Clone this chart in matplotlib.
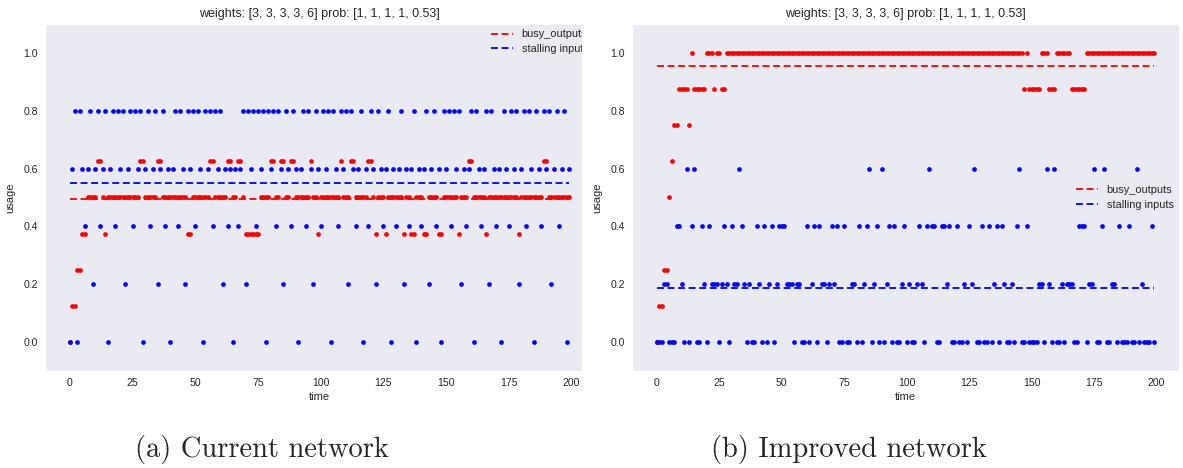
import matplotlib
matplotlib.use("Agg")
import matplotlib.pyplot as plt
import numpy as np
import seaborn as sns
from matplotlib.patches import Rectangle

# values, one sample per time step (t = 0..199)
busy_current = [
    0, .125, .125, .25, .25, .375, .375, .5, .5, .5, .5, .625, .625, .5, .375, .5, .5, .5, .5, .5,
    .5, .5, .5, .5, .5, .5, .5, .5, .625, .625, .5, .5, .5, .5, .5, .625, .625, .5, .5, .5,
    .5, .5, .5, .5, .5, .5, .5, .375, .375, .5, .5, .5, .5, .5, .5, .5, .625, .625, .5, .5,
    .5, .5, .5, .625, .625, .5, .5, .625, .625, .5, .375, .375, .375, .375, .375, .375, .5, .5, .5, .5,
    .625, .625, .5, .5, .625, .625, .5, .5, .625, .625, .5, .5, .5, .5, .5, .5, .625, .5, .5, .375,
    .5, .5, .5, .5, .5, .5, .5, .5, .625, .5, .5, .5, .625, .625, .5, .5, .5, .5, .5, .625,
    .625, .5, .375, .5, .5, .5, .375, .5, .5, .5, .5, .5, .5, .375, .5, .5, .375, .375, .5, .5,
    .5, .375, .375, .5, .5, .5, .5, .375, .375, .5, .5, .5, .5, .5, .5, .375, .5, .5, .5, .625,
    .625, .5, .5, .5, .5, .5, .375, .5, .5, .5, .5, .5, .5, .5, .5, .5, .5, .5, .5, .375,
    .5, .5, .5, .5, .5, .5, .5, .5, .5, .625, .625, .5, .5, .5, .5, .5, .5, .5, .5, .5,
]
stall_current = [
    0, .6, .8, 0, .8, .6, .4, .6, .8, .2, .6, .8, .4, .6, .8, 0, .6, .8, .4, .8,
    .6, .8, .2, .6, .8, .4, .8, .6, .8, 0, .6, .8, .4, .6, .8, .2, .6, .8, .4, .6,
    0, .6, .8, .4, .8, .6, .2, .8, .6, .8, .4, .8, .6, 0, .8, .6, .8, .4, .8, .6,
    .8, .2, .6, .4, .6, 0, .6, .4, .6, .8, .2, .8, .6, .8, .4, .8, .6, .8, 0, .8,
    .6, .8, .4, .8, .6, .2, .8, .6, .4, .8, .6, 0, .6, .8, .4, .8, .6, .2, .8, .6,
    .4, .8, .6, .8, 0, .8, .6, .4, .8, .6, .8, .2, .8, .6, .4, .6, .8, 0, .6, .4,
    .8, .6, .2, .8, .6, .4, .6, .8, 0, .6, .4, .6, .8, .2, .6, .4, .6, .8, 0, .6,
    .4, .6, .8, .2, .6, .8, .4, .6, 0, .8, .6, .8, .4, .8, .6, .8, .2, .6, .4, .6,
    .8, 0, .8, .6, .4, .6, .8, .2, .8, .6, .4, .6, 0, .8, .6, .4, .8, .6, .8, .2,
    .6, .8, .4, .8, .6, 0, .8, .6, .4, .8, .6, .8, .2, .6, .8, .4, .6, .8, 0, .6,
]
busy_improved = [
    0, .125, .125, .25, .25, .5, .625, .75, .75, .875, .875, .875, .875, .75, 1, .875, .875, .875, .875, .875,
    1, 1, 1, .875, 1, 1, .875, .875, 1, 1, 1, 1, 1, 1, 1, 1, 1, 1, 1, 1,
    1, 1, 1, 1, 1, 1, 1, 1, 1, 1, 1, 1, 1, 1, 1, 1, 1, 1, 1, 1,
    1, 1, 1, 1, 1, 1, 1, 1, 1, 1, 1, 1, 1, 1, 1, 1, 1, 1, 1, 1,
    1, 1, 1, 1, 1, 1, 1, 1, 1, 1, 1, 1, 1, 1, 1, 1, 1, 1, 1, 1,
    1, 1, 1, 1, 1, 1, 1, 1, 1, 1, 1, 1, 1, 1, 1, 1, 1, 1, 1, 1,
    1, 1, 1, 1, 1, 1, 1, 1, 1, 1, 1, 1, 1, 1, 1, 1, 1, 1, 1, 1,
    1, 1, 1, 1, 1, 1, 1, .875, 1, .875, .875, .875, .875, .875, 1, 1, 1, .875, .875, .875,
    1, 1, 1, 1, 1, 1, .875, .875, .875, .875, .875, .875, 1, 1, 1, 1, 1, 1, 1, 1,
    1, 1, 1, 1, 1, 1, 1, 1, 1, 1, 1, 1, 1, 1, 1, 1, 1, 1, 1, 1,
]
stall_improved = [
    0, 0, 0, .2, .2, 0, 0, 0, .4, .4, .2, 0, .6, 0, .4, .6, 0, 0, .4, .2,
    0, .4, .2, .2, .2, 0, .2, .4, .2, 0, .4, .2, .2, .6, .4, .2, 0, .2, 0, 0,
    .4, .2, 0, .4, 0, .2, .4, 0, .2, .4, .4, .4, .2, .2, .2, 0, .2, .2, 0, 0,
    .4, 0, .2, .4, 0, .4, .2, .2, 0, .2, .4, .2, .4, 0, 0, .4, 0, 0, .2, .2,
    0, .4, 0, .2, .4, .6, 0, .2, .4, 0, .6, 0, .2, .4, 0, .4, 0, 0, .2, .4,
    0, .2, 0, 0, .2, .4, .2, 0, .4, .6, .4, .4, 0, 0, .4, .4, .2, .4, 0, 0,
    .4, 0, 0, .2, 0, .4, .2, .6, 0, 0, .4, 0, 0, .4, 0, .2, .4, 0, .4, .2,
    0, 0, .2, 0, .4, .6, 0, 0, .4, 0, 0, 0, 0, .2, .2, 0, .6, .2, 0, .6,
    0, 0, .2, 0, .2, .2, .2, 0, 0, .4, .4, .4, 0, .2, .2, .6, 0, 0, .4, .6,
    0, 0, .2, .2, 0, .4, 0, 0, 0, .4, 0, 0, .6, 0, .2, 0, 0, 0, .4, 0,
]
title = "weights: [3, 3, 3, 3, 6] prob: [1, 1, 1, 1, 0.53]"
captions = ["(a) Current network", "(b) Improved network"]

sns.set_style("dark")
plt.rcParams["font.family"] = ["Liberation Sans", "DejaVu Sans"]
plt.rcParams["lines.scale_dashes"] = False

W, H = 1183, 468
fig = plt.figure(figsize=(W / 100, H / 100), dpi=100)
ax_a = fig.add_axes([45 / W, 97 / H, 549 / W, 347 / H])
ax_b = fig.add_axes([632 / W, 97 / H, 547 / W, 347 / H])


def draw(ax, busy, stall, legend_loc):
    t = np.arange(len(busy))
    busy = np.asarray(busy, dtype=float)
    stall = np.asarray(stall, dtype=float)
    ax.plot(t, busy, ls="none", marker="o", ms=3.4, mew=0, color="red")
    ax.plot([t[0], t[-1]], [busy.mean()] * 2, color="red", lw=1.3,
            dashes=(5.0, 2.6), label="busy_outputs")
    ax.plot(t, stall, ls="none", marker="o", ms=3.4, mew=0, color="blue")
    ax.plot([t[0], t[-1]], [stall.mean()] * 2, color="blue", lw=1.3,
            dashes=(5.0, 2.6), label="stalling inputs")
    ax.set_xlim(-9.95, 208.95)
    ax.set_ylim(-0.1, 1.1)
    ax.set_xticks([0, 25, 50, 75, 100, 125, 150, 175, 200])
    ax.set_yticks([0.0, 0.2, 0.4, 0.6, 0.8, 1.0])
    ax.tick_params(labelsize=7.6, length=0, pad=5)
    ax.set_xlabel("time", fontsize=8, labelpad=3)
    ax.set_ylabel("usage", fontsize=8, labelpad=6)
    ax.set_title(title, fontsize=9, pad=5)
    ax.legend(loc=legend_loc, fontsize=7.9, frameon=False, handlelength=2.0,
              labelspacing=0.4, borderaxespad=0.1)


draw(ax_a, busy_current, stall_current, "upper right")
draw(ax_b, busy_improved, stall_improved, "center right")

# the left panel was cropped on its right side in the original layout
ax_a.add_patch(Rectangle((582 / W, 0), 40 / W, 1, transform=fig.transFigure,
                         facecolor="white", edgecolor="none", zorder=10,
                         clip_on=False))

fig.text(262 / W, 1 - 449 / H, captions[0], family="cmr10", fontsize=20.5,
         ha="center", va="center")
fig.text(849 / W, 1 - 449 / H, captions[1], family="cmr10", fontsize=20.5,
         ha="center", va="center")

fig.savefig("out.png", dpi=100)
